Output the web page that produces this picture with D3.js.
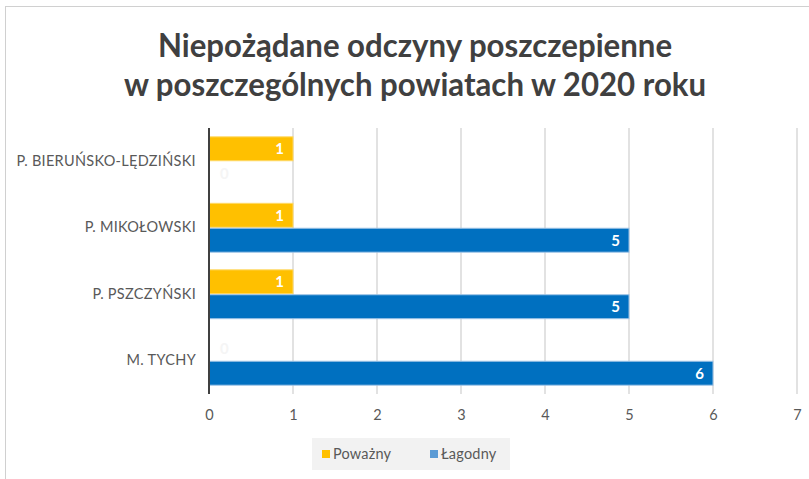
<!DOCTYPE html>
<html><head><meta charset="utf-8">
<script src="https://cdn.jsdelivr.net/npm/d3@7"></script>
<style>body{margin:0;background:#fff}svg{display:block}</style>
</head><body><svg id="c" width="809" height="479"></svg>
<script>
const categories = ["P. BIERUŃSKO-LĘDZIŃSKI","P. MIKOŁOWSKI","P. PSZCZYŃSKI","M. TYCHY"];
const seriesNames = ["Poważny","Łagodny"];
const powazny = [1,1,1,0];
const lagodny = [0,5,5,6];
const xTicks = [0,1,2,3,4,5,6,7];
const titleLines = ["Niepożądane odczyny poszczepienne","w poszczególnych powiatach w 2020 roku"];

const colors = ["#FFC000","#0070C0"];
const strokes = ["#FFD966","#9DC3E6"];
const font = "Lato, 'Open Sans', sans-serif";
const svg = d3.select("#c");

svg.append("rect").attr("x",5.5).attr("y",6.5).attr("width",820).attr("height",500)
  .attr("fill","#fff").attr("stroke","#d0d0d0");

const pL=209, pR=797, pT=128, pB=394;
const x = d3.scaleLinear().domain([0,7]).range([pL,pR]);
const y = d3.scaleBand().domain(categories).range([pT,pB]).paddingInner(0.25).paddingOuter(0.125);
const ys = d3.scaleBand().domain(seriesNames).range([0,y.bandwidth()]);

// title
svg.append("g").attr("transform","translate(415,0) scale(0.945,1)")
  .selectAll("text").data(titleLines).join("text")
  .attr("x",0).attr("y",(d,i)=>57+i*39).attr("text-anchor","middle")
  .attr("font-family",font).attr("font-weight","bold").attr("font-size",33)
  .attr("fill","#404040").text(d=>d);

// gridlines
svg.append("g").selectAll("line").data(xTicks.filter(t=>t>0)).join("line")
  .attr("x1",d=>x(d)).attr("x2",d=>x(d)).attr("y1",pT).attr("y2",pB)
  .attr("stroke","#d9d9d9").attr("stroke-width",1.5);

// x axis
const xAxis = svg.append("g").attr("transform",`translate(0,${pB})`)
  .call(d3.axisBottom(x).tickValues(xTicks).tickFormat(d3.format("d")).tickSize(0).tickPadding(16));
xAxis.select(".domain").remove();
xAxis.selectAll("text").attr("font-family",font).attr("font-size",14.5).attr("fill","#595959");

// y axis labels
const yAxis = svg.append("g").attr("transform",`translate(${pL},0)`)
  .call(d3.axisLeft(y).tickSize(0).tickPadding(13));
yAxis.select(".domain").remove();
yAxis.selectAll("text").attr("font-family",font).attr("font-size",14.5)
  .attr("letter-spacing","0.3px").attr("fill","#595959");

const data = [powazny, lagodny];
data.forEach((vals,si)=>{
  const g = svg.append("g");
  g.selectAll("rect").data(vals.map((v,i)=>({v,c:categories[i]}))).join("rect")
    .attr("x",x(0)).attr("y",d=>y(d.c)+ys(seriesNames[si])+0.5)
    .attr("width",d=>x(d.v)-x(0)).attr("height",ys.bandwidth()-1)
    .attr("fill",colors[si]).attr("stroke",d=>d.v>0?strokes[si]:"none").attr("stroke-width",1);
  g.selectAll("text").data(vals.map((v,i)=>({v,c:categories[i]}))).join("text")
    .attr("x",d=>d.v>0?x(d.v)-9:x(0)+11)
    .attr("y",d=>y(d.c)+ys(seriesNames[si])+ys.bandwidth()/2)
    .attr("dy","0.36em").attr("text-anchor",d=>d.v>0?"end":"start")
    .attr("font-family",font).attr("font-weight","bold").attr("font-size",15)
    .attr("fill",d=>d.v>0?"#fff":"#f5f5f5").text(d=>d.v);
});

// axis line at 0
svg.append("line").attr("x1",x(0)).attr("x2",x(0)).attr("y1",pT).attr("y2",pB)
  .attr("stroke","#404040").attr("stroke-width",2);

// legend
const lg = svg.append("g");
lg.append("rect").attr("x",312).attr("y",438).attr("width",198).attr("height",32).attr("fill","#f2f2f2");
const legendItems = [{n:seriesNames[0],c:colors[0],x:322},{n:seriesNames[1],c:"#5B9BD5",x:430}];
legendItems.forEach(it=>{
  lg.append("rect").attr("x",it.x).attr("y",450).attr("width",8).attr("height",8).attr("fill",it.c);
  lg.append("text").attr("x",it.x+11).attr("y",454).attr("dy","0.36em")
    .attr("font-family",font).attr("font-size",14.5).attr("letter-spacing","0.2px")
    .attr("fill","#595959").text(it.n);
});
</script></body></html>
